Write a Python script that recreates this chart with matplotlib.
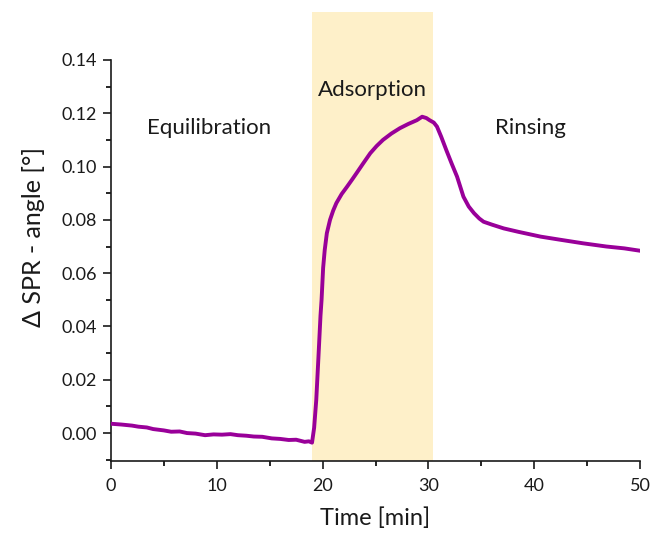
import matplotlib
matplotlib.use("Agg")
import matplotlib.pyplot as plt
from matplotlib.ticker import FixedLocator

# Data
time_min = [0.0, 1.0, 2.0, 2.6, 3.4, 4.0, 5.0, 5.7, 6.5, 7.2, 8.0, 8.9, 9.7, 10.5, 11.3, 12.0,
            12.8, 13.5, 14.3, 15.2, 16.0, 16.8, 17.5, 18.3, 18.7, 19.0,
            19.2, 19.4, 19.6, 19.8, 19.9, 20.05, 20.2, 20.4, 20.7, 21.0, 21.3, 21.8, 22.3, 22.8,
            23.2, 23.8, 24.5, 25.1, 25.7, 26.5, 27.3, 28.1, 28.9, 29.4, 29.8, 30.1, 30.5, 30.8,
            31.2, 31.7, 32.2, 32.7, 33.3, 33.8, 34.3, 34.8, 35.2, 36.0, 37.1, 38.5, 40.6, 42.5,
            44.6, 46.8, 48.5, 50.0]
spr_angle = [0.0035, 0.0032, 0.0028, 0.0024, 0.0021, 0.0015, 0.0010, 0.0005, 0.0006, 0.0000,
             -0.0002, -0.0008, -0.0005, -0.0006, -0.0004, -0.0008, -0.0010, -0.0013, -0.0014,
             -0.0020, -0.0022, -0.0026, -0.0025, -0.0033, -0.0031, -0.0036,
             0.0020, 0.0124, 0.0280, 0.0440, 0.0499, 0.0620, 0.0687, 0.0750, 0.0800, 0.0835,
             0.0863, 0.0897, 0.0924, 0.0952, 0.0975, 0.1010, 0.1050, 0.1077, 0.1100, 0.1124,
             0.1144, 0.1160, 0.1174, 0.1187, 0.1182, 0.1174, 0.1165, 0.1150, 0.1112, 0.1060,
             0.1010, 0.0962, 0.0887, 0.0850, 0.0825, 0.0805, 0.0793, 0.0782, 0.0768, 0.0755,
             0.0737, 0.0725, 0.0712, 0.0700, 0.0693, 0.0684]
adsorption_span = [19.0, 30.4]
phase_labels = ["Equilibration", "Adsorption", "Rinsing"]
phase_label_x = [9.3, 24.7, 39.6]
phase_label_y = [0.1144, 0.1287, 0.1144]
x_ticks = [0, 10, 20, 30, 40, 50]
y_ticks = [0.00, 0.02, 0.04, 0.06, 0.08, 0.10, 0.12, 0.14]

plt.rcParams['font.family'] = ['Lato', 'DejaVu Sans']

fig = plt.figure(figsize=(6.52, 5.33), dpi=100)
ax = fig.add_axes([0.170, 0.135, 0.812, 0.8425])

ax.axvspan(adsorption_span[0], adsorption_span[1], color='#FEF0C9', zorder=0, lw=0)
ax.plot(time_min, spr_angle, color='#990099', lw=2.8, zorder=3,
        solid_joinstyle='round', solid_capstyle='round')

for lbl, lx, ly in zip(phase_labels, phase_label_x, phase_label_y):
    ax.text(lx, ly, lbl, ha='center', va='center', fontsize=16, color='#1a1a1a')

ax.set_xlim(0, 50)
ax.set_ylim(-0.0105, 0.158)
ax.spines['top'].set_visible(False)
ax.spines['right'].set_visible(False)
ax.spines['left'].set_bounds(-0.0105, 0.14)
ax.set_xticks(x_ticks)
ax.set_yticks(y_ticks)
ax.set_yticklabels([f"{v:.2f}" for v in y_ticks])
ax.xaxis.set_minor_locator(FixedLocator([5, 15, 25, 35, 45]))
ax.yaxis.set_minor_locator(FixedLocator([-0.01, 0.01, 0.03, 0.05, 0.07, 0.09, 0.11, 0.13]))
ax.tick_params(which='major', direction='out', length=6, width=1.2, labelsize=13,
               colors='#1a1a1a', pad=4)
ax.tick_params(axis='x', which='major', pad=6)
ax.tick_params(which='minor', direction='out', length=3.5, width=1.2)
for s in ('left', 'bottom'):
    ax.spines[s].set_linewidth(1.2)
    ax.spines[s].set_color('#1a1a1a')

ax.set_xlabel('Time [min]', fontsize=17, labelpad=10, color='#1a1a1a')
ax.set_ylabel('Δ SPR - angle [°]', fontsize=18, labelpad=12, color='#1a1a1a')

fig.savefig('out.png', dpi=100)
